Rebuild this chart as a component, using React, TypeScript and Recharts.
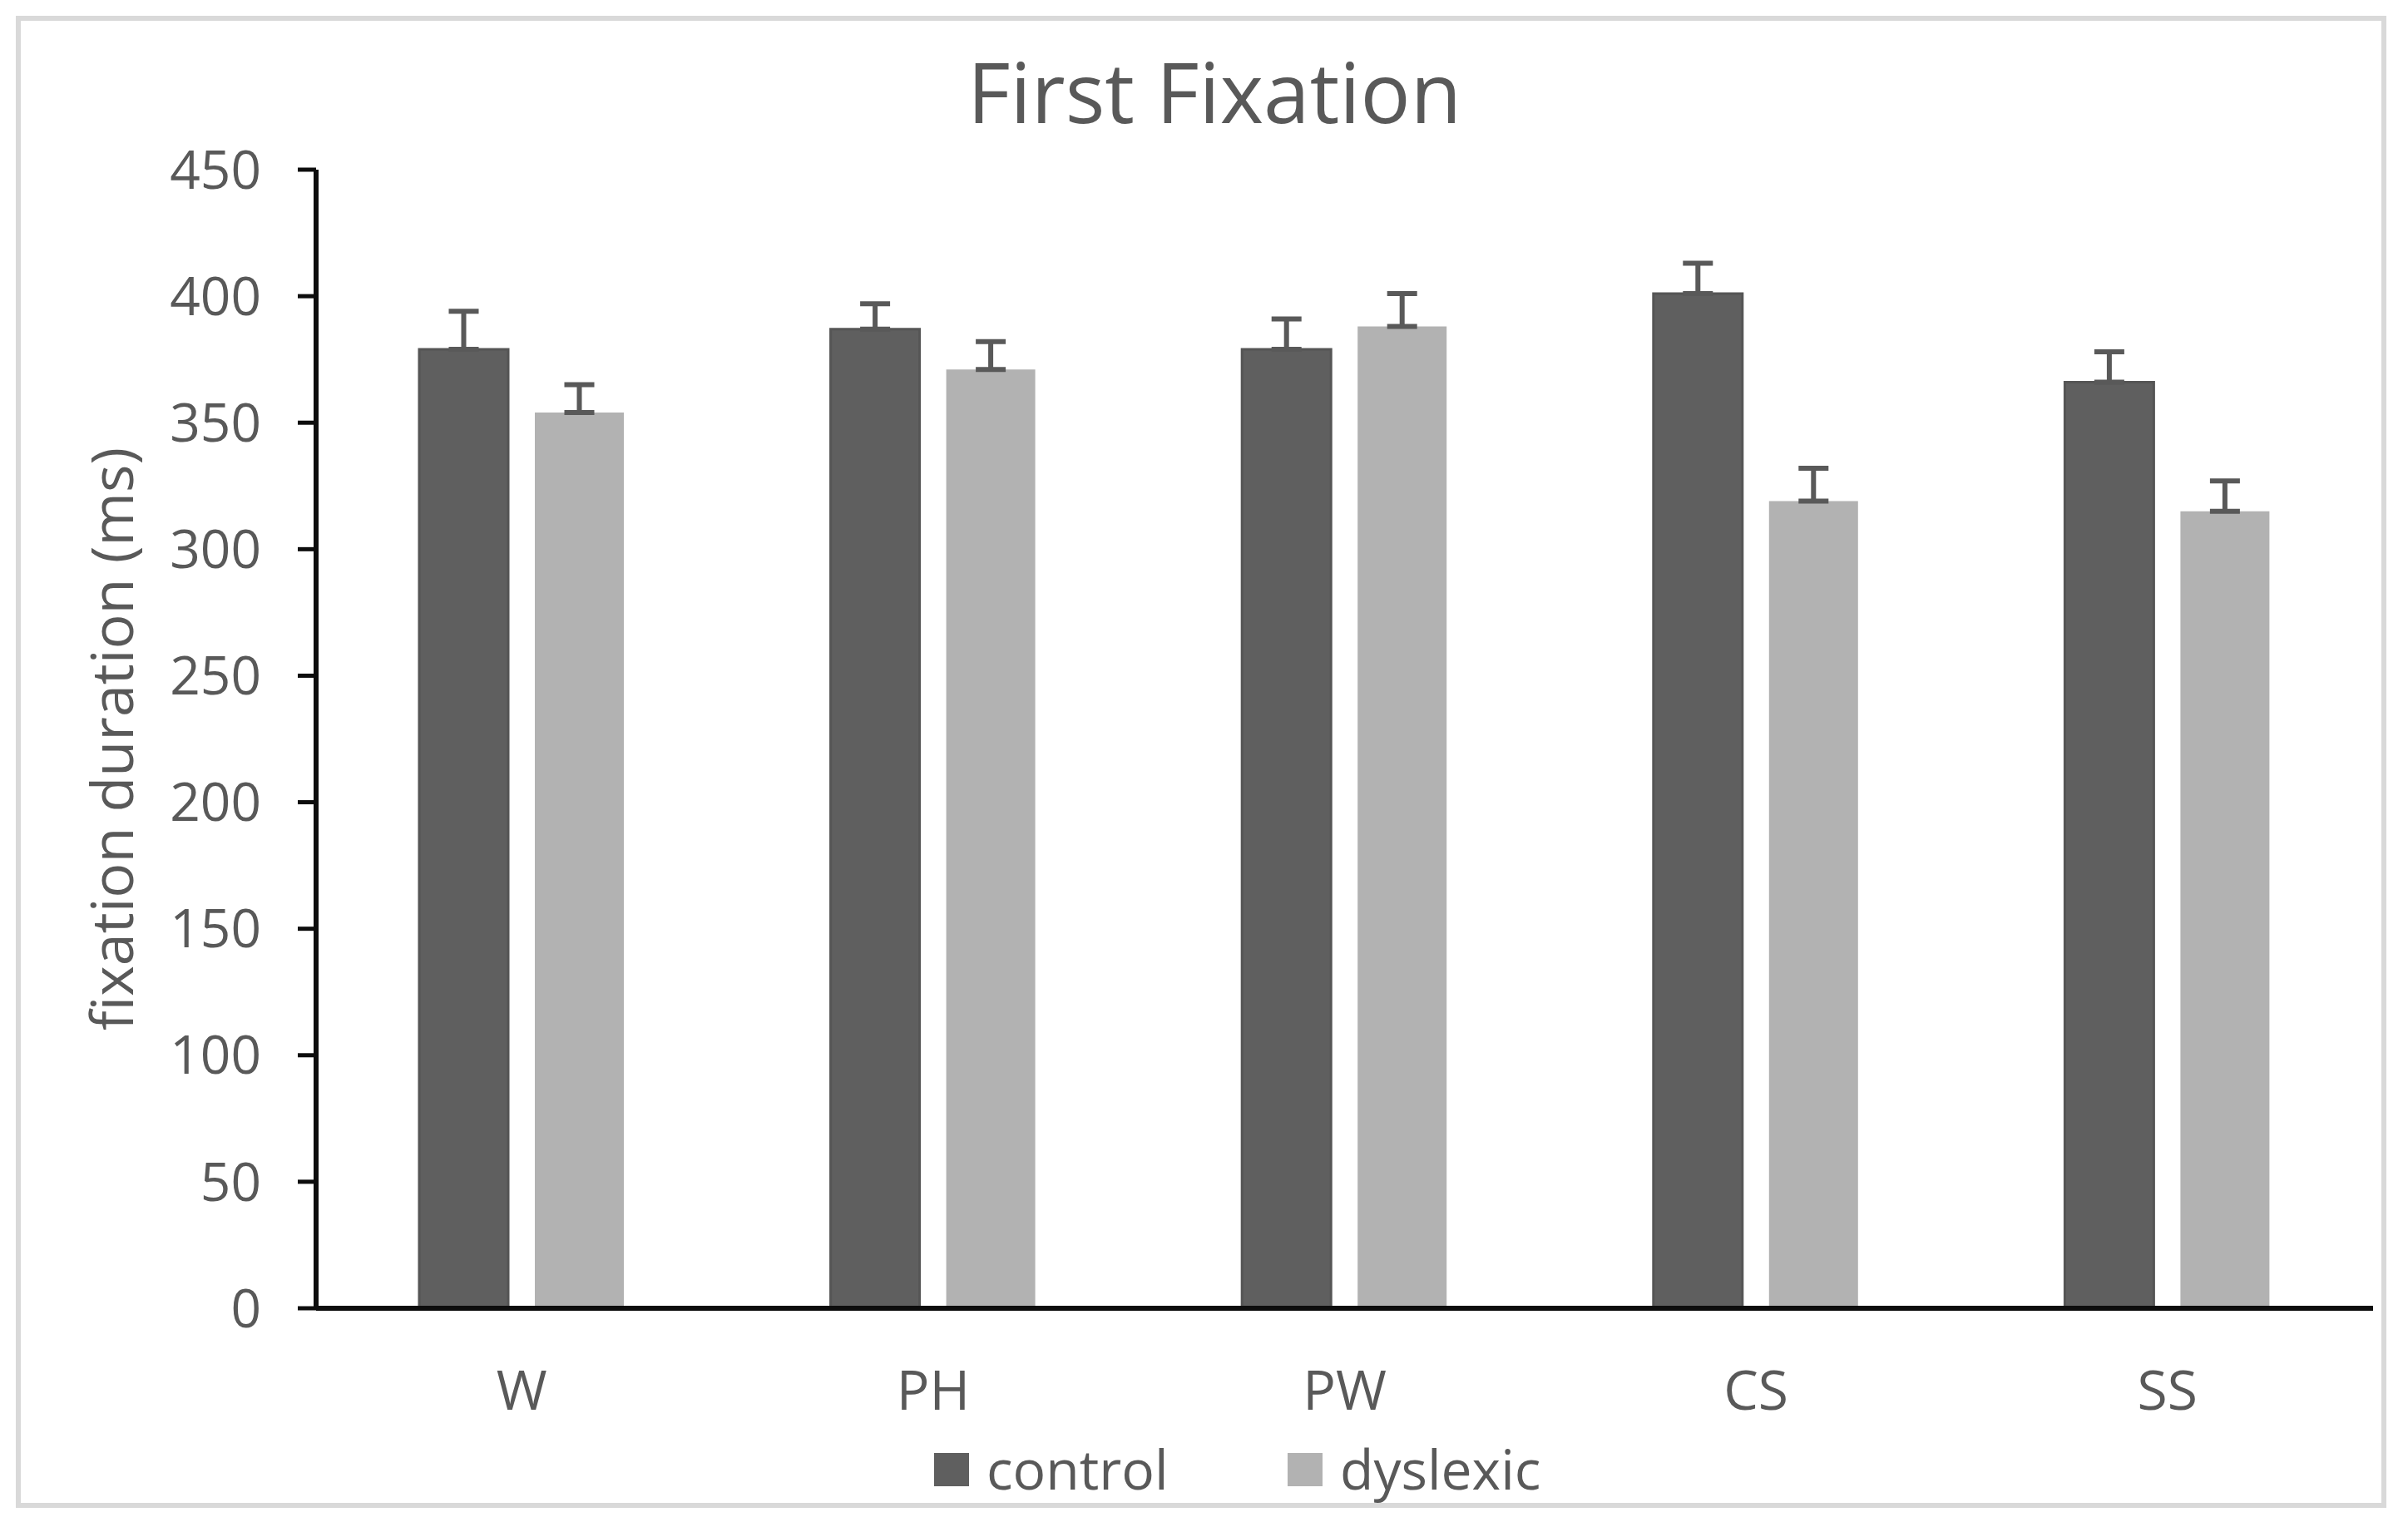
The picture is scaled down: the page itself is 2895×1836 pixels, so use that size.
import React from 'react';
import { BarChart, Bar, XAxis, YAxis, ErrorBar, Legend, Label } from 'recharts';

const categories = ['W', 'PH', 'PW', 'CS', 'SS'];
const controlValues = [379, 387, 379, 401, 366];
const controlErrors = [15, 10, 12, 12, 12];
const dyslexicValues = [354, 371, 388, 319, 315];
const dyslexicErrors = [11, 11, 13, 13, 12];
const yTicks = [0, 50, 100, 150, 200, 250, 300, 350, 400, 450];

const seriesNames = { control: 'control', dyslexic: 'dyslexic' };
const titleText = 'First Fixation';
const yLabelText = 'fixation duration (ms)';

const data = categories.map((c, i) => ({
  category: c,
  control: controlValues[i],
  controlErr: [0, controlErrors[i]],
  dyslexic: dyslexicValues[i],
  dyslexicErr: [0, dyslexicErrors[i]],
}));

const FONT = '"Open Sans", "DejaVu Sans", sans-serif';
const TEXT = '#595959';
const CONTROL = '#5f5f5f';
const DYSLEXIC = '#b2b2b2';
const AXIS = '#0d0d0d';

const W = 2895;
const H = 1836;

const renderLegend = (props: any) => {
  const payload = props.payload || [];
  return (
    <div style={{ display: 'flex', flexDirection: 'row', marginLeft: 1123, fontFamily: FONT, fontSize: 66, lineHeight: '90px', color: TEXT }}>
      {payload.map((entry: any, i: number) => (
        <div key={i} style={{ display: 'flex', flexDirection: 'row', width: i === 0 ? 425 : 400 }}>
          <div style={{ width: 42, height: 40, marginTop: 27, background: entry.color, marginRight: 21 }} />
          <span>{entry.value}</span>
        </div>
      ))}
    </div>
  );
};

const YLabel = (props: any) => {
  const vb = props.viewBox || { x: 0, y: 204, width: 380, height: 1369 };
  const cx = vb.x + 133;
  const cy = vb.y + vb.height / 2;
  return (
    <text
      x={cx}
      y={cy}
      transform={`rotate(-90, ${cx}, ${cy})`}
      textAnchor="middle"
      dominantBaseline="central"
      fill={TEXT}
      fontSize={70}
      fontFamily={FONT}
    >
      {yLabelText}
    </text>
  );
};

export default function App() {
  return (
    <div style={{ position: 'absolute', left: 0, top: 0, width: W, height: H, background: '#ffffff' }}>
      <div
        style={{
          position: 'absolute',
          left: 19,
          top: 19,
          width: 2869 - 19,
          height: 1813 - 19,
          border: '6px solid #d9d9d9',
          boxSizing: 'border-box',
        }}
      />
      <svg width={W} height={H} style={{ position: 'absolute', left: 0, top: 0, pointerEvents: 'none' }}>
        <text x={1460} y={148} textAnchor="middle" fill={TEXT} fontSize={100} fontFamily={FONT}>
          {titleText}
        </text>
      </svg>
      <div style={{ position: 'absolute', left: 0, top: 0 }}>
        <BarChart
          width={W}
          height={H}
          data={data}
          margin={{ top: 204, right: 42, bottom: 113, left: 0 }}
          barGap={32}
        >
          <XAxis
            dataKey="category"
            height={150}
            axisLine={{ stroke: AXIS, strokeWidth: 6 }}
            tickLine={false}
            tickSize={0}
            tickMargin={75}
            tick={{ fill: TEXT, fontSize: 66, fontFamily: FONT }}
          />
          <YAxis
            type="number"
            width={380}
            domain={[0, 450]}
            ticks={yTicks}
            interval={0}
            axisLine={{ stroke: AXIS, strokeWidth: 6 }}
            tickLine={{ stroke: AXIS, strokeWidth: 5 }}
            tickSize={22}
            tickMargin={44}
            tick={{ fill: TEXT, fontSize: 64, fontFamily: FONT }}
          >
            <Label content={<YLabel />} />
          </YAxis>
          <Legend
            layout="horizontal"
            verticalAlign="middle"
            align="center"
            wrapperStyle={{ position: 'absolute', top: 1720, left: 0, width: W, height: 90 }}
            content={renderLegend}
          />
          <Bar dataKey="control" name={seriesNames.control} fill={CONTROL} stroke="#555555" strokeWidth={3} barSize={107} isAnimationActive={false}>
            <ErrorBar dataKey="controlErr" width={18} stroke={TEXT} strokeWidth={6} direction="y" />
          </Bar>
          <Bar dataKey="dyslexic" name={seriesNames.dyslexic} fill={DYSLEXIC} barSize={107} isAnimationActive={false}>
            <ErrorBar dataKey="dyslexicErr" width={18} stroke={TEXT} strokeWidth={6} direction="y" />
          </Bar>
        </BarChart>
      </div>
    </div>
  );
}
